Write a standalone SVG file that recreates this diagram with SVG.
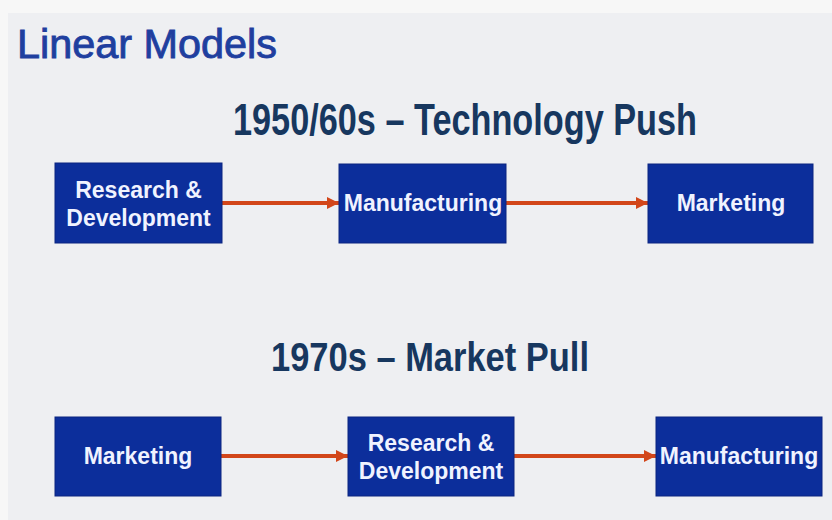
<svg xmlns="http://www.w3.org/2000/svg" width="832" height="520" viewBox="0 0 832 520">
  <defs>
    <style>
      .box { fill: #0c2e9b; stroke: #0a2580; stroke-width: 1; }
      .lbl { font-family: "Liberation Sans", Arial, sans-serif; font-weight: bold; font-size: 23px; fill: #f0f3ff; text-anchor: middle; }
      .sub { font-family: "Liberation Sans", Arial, sans-serif; font-weight: bold; fill: #17375f; }
      .conn { stroke: #d2461a; stroke-width: 4; fill: none; marker-end: url(#arr); }
    </style>
    <marker id="arr" viewBox="0 0 10 10" refX="10" refY="5" markerWidth="3" markerHeight="3" orient="auto" markerUnits="strokeWidth">
      <path d="M0,0 L10,5 L0,10 z" fill="#d2461a"/>
    </marker>
  </defs>

  <rect x="0" y="0" width="832" height="520" fill="#f7f7f7"/>
  <rect x="8" y="13" width="824" height="507" fill="#eeeff2"/>

  <text x="17" y="58" font-family="Liberation Sans, Arial, sans-serif" font-size="41" fill="#1f3f9f" stroke="#1f3f9f" stroke-width="0.9" textLength="260" lengthAdjust="spacingAndGlyphs">Linear Models</text>

  <text class="sub" x="233" y="135" font-size="44" textLength="464" lengthAdjust="spacingAndGlyphs">1950/60s – Technology Push</text>
  <text class="sub" x="271" y="371" font-size="41" textLength="318" lengthAdjust="spacingAndGlyphs">1970s – Market Pull</text>

  <g id="connectors">
    <line class="conn" x1="222" y1="203" x2="339" y2="203"/>
    <line class="conn" x1="506" y1="203" x2="648" y2="203"/>
    <line class="conn" x1="221" y1="456" x2="348" y2="456"/>
    <line class="conn" x1="514" y1="456" x2="656" y2="456"/>
  </g>

  <g id="push-rd">
    <rect class="box" x="55" y="163" width="167" height="80"/>
    <text class="lbl" x="138.5" y="198">Research &amp;</text>
    <text class="lbl" x="138.5" y="226">Development</text>
  </g>
  <g id="push-mfg">
    <rect class="box" x="339" y="164" width="167" height="79"/>
    <text class="lbl" x="423" y="211">Manufacturing</text>
  </g>
  <g id="push-mkt">
    <rect class="box" x="648" y="164" width="165" height="79"/>
    <text class="lbl" x="731" y="211">Marketing</text>
  </g>

  <g id="pull-mkt">
    <rect class="box" x="55" y="417" width="166" height="79"/>
    <text class="lbl" x="138" y="464">Marketing</text>
  </g>
  <g id="pull-rd">
    <rect class="box" x="348" y="417" width="166" height="79"/>
    <text class="lbl" x="431" y="451">Research &amp;</text>
    <text class="lbl" x="431" y="479">Development</text>
  </g>
  <g id="pull-mfg">
    <rect class="box" x="656" y="417" width="166" height="79"/>
    <text class="lbl" x="739" y="464">Manufacturing</text>
  </g>
</svg>
